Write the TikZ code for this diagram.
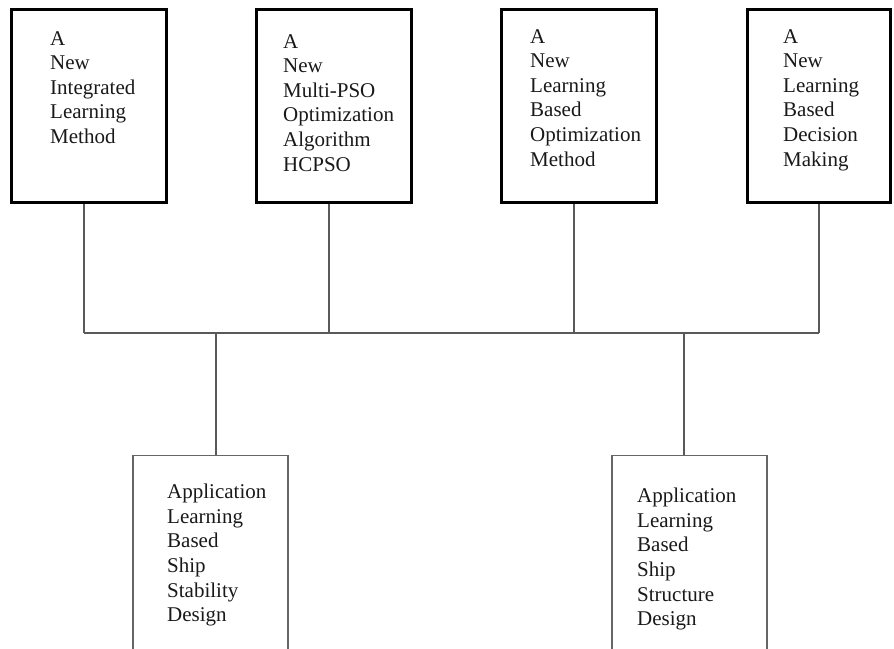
\documentclass[tikz,border=0pt]{standalone}
\usepackage{fontspec}
\setmainfont{Liberation Serif}
\begin{document}
\begin{tikzpicture}[x=1pt,y=-1pt,
  topbox/.style={draw=black, line width=3pt, rectangle, inner sep=0pt,
                 minimum width=155pt, minimum height=193pt},
  appbox/.style={draw=black!60, line width=1.5pt, rectangle, inner sep=0pt,
                 minimum width=155pt, minimum height=245pt},
  label/.style={anchor=north west, inner sep=0pt, align=left,
                font=\fontsize{21}{24.6}\selectfont, text=black!90},
  wire/.style={draw=black!65, line width=1.3pt}]
  \useasboundingbox (0,0) rectangle (894,648);
  \clip (0,0) rectangle (894,648);

  % upper row of method boxes
  \node[topbox] (b1) at (89,106) {};
  \node[topbox] (b2) at (334,106) {};
  \node[topbox] (b3) at (579,106) {};
  \node[topbox, minimum width=143pt] (b4) at (819,106) {};

  % lower row of application boxes (open at the bottom edge)
  \node[appbox] (b5) at (210.5,578) {};
  \node[appbox] (b6) at (689.5,578) {};

  % box texts (placed by the top of their first line)
  \node[label] (t1) at (50,31)  {A\\New\\Integrated\\Learning\\Method};
  \node[label] (t2) at (283,34) {A\\New\\Multi-PSO\\Optimization\\Algorithm\\HCPSO};
  \node[label] (t3) at (530,29) {A\\New\\Learning\\Based\\Optimization\\Method};
  \node[label] (t4) at (783,29) {A\\New\\Learning\\Based\\Decision\\Making};
  \node[label] (t5) at (167,484) {Application\\Learning\\Based\\Ship\\Stability\\Design};
  \node[label] (t6) at (637,488) {Application\\Learning\\Based\\Ship\\Structure\\Design};

  % common bus line
  \coordinate (bus) at (0,333);
  \coordinate (busL) at ([xshift=-5pt]b1.south |- bus);
  \coordinate (busR) at (b4.south |- bus);
  \draw[wire] (busL) -- (busR);

  % drops from the upper boxes
  \draw[wire] ([xshift=-5pt]b1.south) -- (busL);
  \draw[wire] ([xshift=-5pt]b2.south) -- ([xshift=-5pt]b2.south |- bus);
  \draw[wire] ([xshift=-5pt]b3.south) -- ([xshift=-5pt]b3.south |- bus);
  \draw[wire] (b4.south) -- (busR);

  % feeds into the lower boxes
  \draw[wire] ([xshift=5.5pt]b5.north |- bus) -- ([xshift=5.5pt]b5.north);
  \draw[wire] ([xshift=-5.5pt]b6.north |- bus) -- ([xshift=-5.5pt]b6.north);
\end{tikzpicture}
\end{document}
